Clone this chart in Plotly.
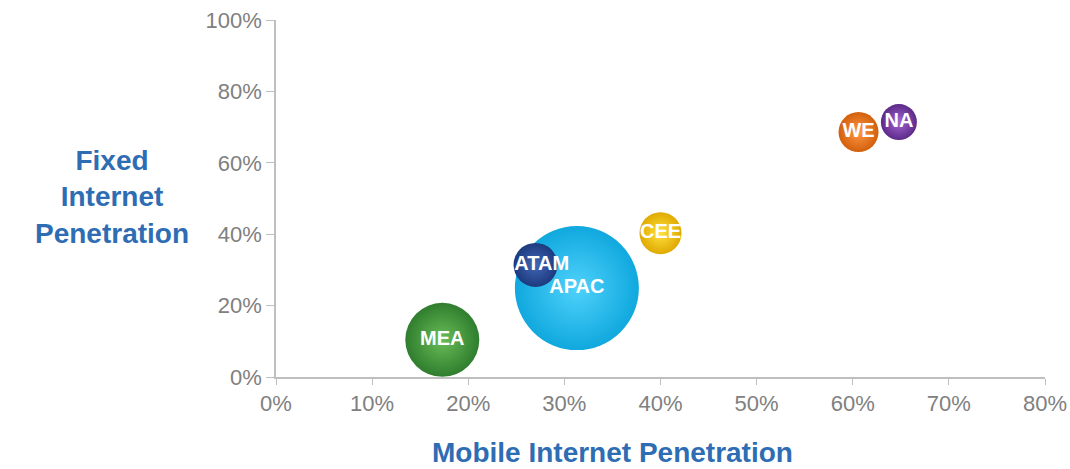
import plotly.graph_objects as go

# regions, mobile (x) and fixed (y) internet penetration, bubble value
regions = ["APAC", "LATAM", "MEA", "CEE", "WE", "NA"]
mobile = [0.313, 0.270, 0.173, 0.400, 0.606, 0.648]
fixed = [0.249, 0.314, 0.104, 0.403, 0.686, 0.714]
bubble_value = [124, 44, 74, 42, 40, 36]

x_ticks = [0, 0.1, 0.2, 0.3, 0.4, 0.5, 0.6, 0.7, 0.8]
y_ticks = [0, 0.2, 0.4, 0.6, 0.8, 1.0]

# (edge colour, centre colour) for the shaded look
colors = {
    "APAC": ("#10a8de", "#4fd2fb"),
    "LATAM": ("#1d3a7e", "#4266b6"),
    "MEA": ("#2f7d2e", "#69bd57"),
    "CEE": ("#e0aa00", "#ffe040"),
    "WE": ("#d2600c", "#ff9845"),
    "NA": ("#5c2a8a", "#a466cf"),
}

fig = go.Figure()
for name, x, y, v in zip(regions, mobile, fixed, bubble_value):
    edge, centre = colors[name]
    fig.add_trace(go.Scatter(
        x=[x], y=[y], mode="markers+text", text=[name],
        textposition="middle center",
        textfont=dict(family="Liberation Sans, Arial", size=20, color="white", weight="bold"),
        marker=dict(size=[v], sizemode="diameter", sizeref=1, color=edge,
                    gradient=dict(type="radial", color=centre),
                    line=dict(width=0), opacity=1),
        cliponaxis=False, showlegend=False, hoverinfo="skip",
    ))

axis_font = dict(family="Liberation Sans, Arial", size=22, color="#808080")
title_font = dict(family="Liberation Sans, Arial", size=28, color="#2e6db4", weight="bold")

fig.update_xaxes(range=[0, 0.8], tickvals=x_ticks, tickformat=".0%", showgrid=False,
                 zeroline=False, showline=True, linecolor="#bfbfbf", linewidth=1.5,
                 ticks="outside", ticklen=6, tickcolor="#bfbfbf", tickfont=axis_font,
                 automargin=False, ticklabeloverflow="allow")
fig.update_yaxes(range=[0, 1.0], tickvals=y_ticks, tickformat=".0%", showgrid=False,
                 zeroline=False, showline=True, linecolor="#bfbfbf", linewidth=1.5,
                 ticks="outside", ticklen=8, tickcolor="#bfbfbf", tickfont=axis_font,
                 automargin=False, ticklabeloverflow="allow")

fig.add_annotation(text="Mobile Internet Penetration", xref="paper", yref="paper",
                   x=0.437, y=-0.212, xanchor="center", yanchor="middle",
                   showarrow=False, font=title_font)
fig.add_annotation(text="Fixed<br>Internet<br>Penetration", xref="paper", yref="paper",
                   x=-0.213, y=0.504, xanchor="center", yanchor="middle",
                   showarrow=False, font=title_font, align="center")

fig.update_layout(
    width=1070, height=469,
    margin=dict(l=276, r=25, t=20, b=92),
    plot_bgcolor="white", paper_bgcolor="white",
)

# drop the page's default body margin so the figure sits at the window's corner
fig.write_html("out.html", config={"displayModeBar": False},
               post_script="document.body.style.margin='0';document.body.style.overflow='hidden';")
